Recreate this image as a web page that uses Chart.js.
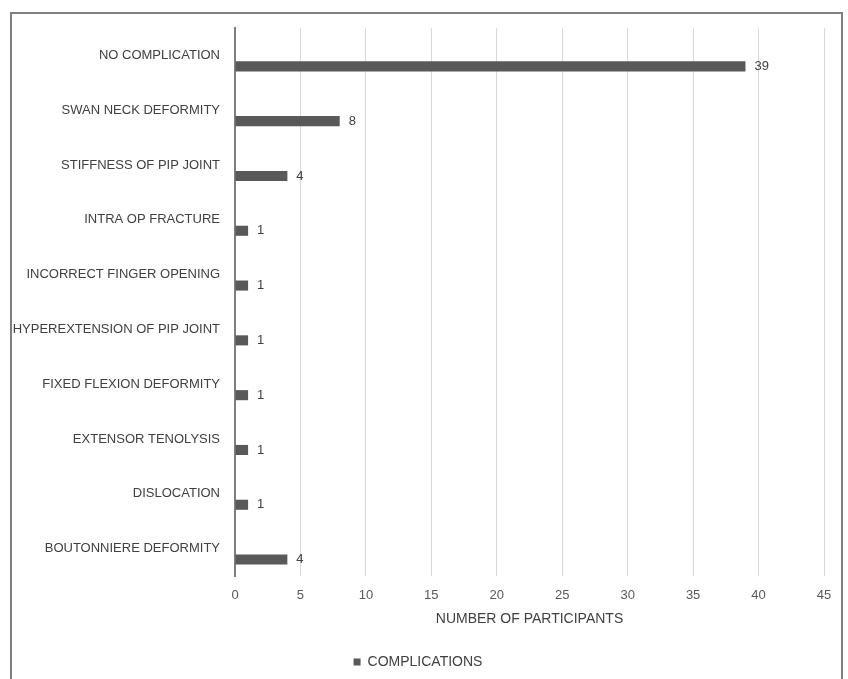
<!DOCTYPE html>
<html>
<head>
<meta charset="utf-8">
<script src="https://cdn.jsdelivr.net/npm/chart.js@4/dist/chart.umd.min.js"></script>
<style>
  html, body { margin: 0; padding: 0; background: #fff; overflow: hidden; }
  #frame {
    position: absolute; left: 10px; top: 12px; width: 833px; height: 720px;
    border: 2px solid #7f7f7f; box-sizing: border-box;
  }
  #chart { position: absolute; left: 0; top: 0; }
</style>
</head>
<body>
<div id="frame"></div>
<canvas id="chart" width="848" height="679"></canvas>
<script>
// ---- data ----
const categories = [
    "NO COMPLICATION",
    "SWAN NECK DEFORMITY",
    "STIFFNESS OF PIP JOINT",
    "INTRA OP FRACTURE",
    "INCORRECT FINGER OPENING",
    "HYPEREXTENSION OF PIP JOINT",
    "FIXED FLEXION DEFORMITY",
    "EXTENSOR TENOLYSIS",
    "DISLOCATION",
    "BOUTONNIERE DEFORMITY"
];
const participants = [39, 8, 4, 1, 1, 1, 1, 1, 1, 4];
const seriesName = "COMPLICATIONS";
const axisTitle = "NUMBER OF PARTICIPANTS";
const xMax = 45;
const xStep = 5;

const FONT = "'Liberation Sans', Arial, sans-serif";
const barColor = "#595959";

// value labels at bar ends
const valueLabels = {
    id: "valueLabels",
    afterDatasetsDraw(chart) {
        const ctx = chart.ctx;
        const meta = chart.getDatasetMeta(1);
        ctx.save();
        ctx.font = "13px " + FONT;
        ctx.fillStyle = "#404040";
        ctx.textAlign = "left";
        ctx.textBaseline = "middle";
        meta.data.forEach((bar, i) => {
            ctx.fillText(String(participants[i]), bar.x + 9, bar.y);
        });
        ctx.restore();
    }
};

new Chart(document.getElementById("chart"), {
    type: "bar",
    data: {
        labels: categories,
        datasets: [
            {
                // empty slot series, keeps bars below their labels like the original
                label: "",
                data: categories.map(() => null),
                backgroundColor: barColor
            },
            {
                label: seriesName,
                data: participants,
                backgroundColor: barColor
            }
        ]
    },
    options: {
        indexAxis: "y",
        responsive: false,
        animation: false,
        datasets: { bar: { categoryPercentage: 0.8, barPercentage: 0.46 } },
        layout: { padding: { top: 28, left: 12, right: 24, bottom: 0 } },
        plugins: {
            tooltip: { enabled: false },
            legend: {
                position: "bottom",
                labels: {
                    filter: item => item.datasetIndex === 1,
                    boxWidth: 7,
                    boxHeight: 7,
                    padding: 6,
                    color: "#404040",
                    font: { family: FONT, size: 14 }
                }
            }
        },
        scales: {
            y: {
                afterFit: s => { s.width = 223; },
                grid: { display: false, drawTicks: false },
                border: { display: true, color: "#7f7f7f", width: 2 },
                ticks: {
                    padding: 15,
                    color: "#404040",
                    font: { family: FONT, size: 13 }
                }
            },
            x: {
                min: 0,
                max: xMax,
                afterFit: s => { s.height = 73; },
                grid: { color: "#d9d9d9", lineWidth: 1, drawTicks: false },
                border: { display: false },
                ticks: {
                    stepSize: xStep,
                    padding: 12,
                    color: "#595959",
                    font: { family: FONT, size: 13 }
                },
                title: {
                    display: true,
                    text: axisTitle,
                    color: "#404040",
                    font: { family: FONT, size: 14 },
                    padding: { top: 4, bottom: 21 }
                }
            }
        }
    },
    plugins: [valueLabels]
});
</script>
</body>
</html>
